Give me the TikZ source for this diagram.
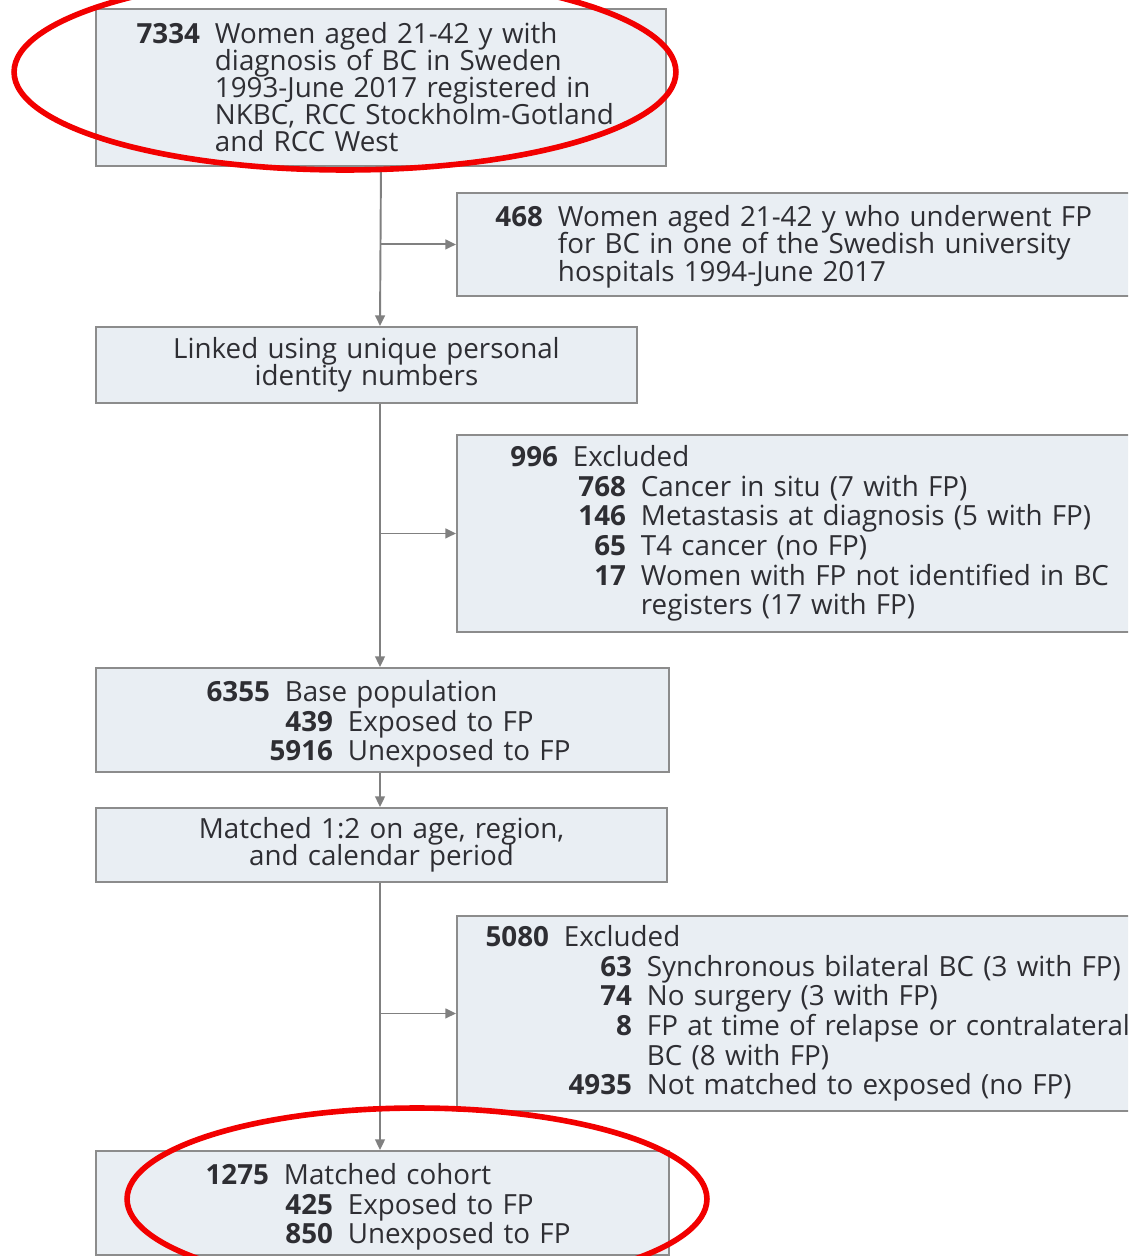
\documentclass[tikz,border=0pt]{standalone}
\usepackage{fontspec}
\setmainfont{Open Sans}
\usepackage{xcolor}
\usetikzlibrary{arrows.meta, positioning}

\definecolor{boxfill}{HTML}{E9EEF3}
\definecolor{boxline}{HTML}{8C8C8C}
\definecolor{flowgray}{HTML}{808080}
\definecolor{textgray}{HTML}{2E2E33}
\definecolor{markred}{HTML}{F20000}

\newlength{\pxu}\setlength{\pxu}{0.02cm}
\setlength{\lineskiplimit}{-100pt}
\setlength{\normallineskiplimit}{-100pt}
% bold number, right aligned in a slot of #1 px, then a fixed gap
\newcommand{\numslot}[2]{\makebox[#1\pxu][r]{\textbf{#2}}\hspace{15\pxu}}

\begin{document}
\begin{tikzpicture}[x=0.02cm, y=-0.02cm,
  panel/.style={rectangle, draw=boxline, line width=1.1pt, fill=boxfill, anchor=north west, inner sep=0pt, align=left, text=textgray, font=\fontsize{15.8}{15.4}\selectfont,
    execute at begin node={\setlength{\lineskiplimit}{-100pt}}},
  listpanel/.style={panel, font=\fontsize{15.8}{16.9}\selectfont},
  flow/.style={-{Triangle[length=6pt, width=5.5pt]}, line width=1.1pt, draw=flowgray},
  ring/.style={draw=markred, line width=3.2pt}
]
\path[use as bounding box, fill=white] (0,0) rectangle (1128,1256);
\clip (0,0) rectangle (1128,1256);

\coordinate (trunk) at (380,0);

% boxes
\node[panel, text width=570\pxu, minimum height=157\pxu] (cohortBC) at (95,8) {%
  \numslot{104}{7334}Women aged 21-42 y with\\
  \numslot{104}{}diagnosis of BC in Sweden\\
  \numslot{104}{}1993-June 2017 registered in\\
  \numslot{104}{}NKBC, RCC Stockholm-Gotland\\
  \numslot{104}{}and RCC West};
\node[panel, font=\fontsize{15.8}{15.7}\selectfont, text width=720\pxu, minimum height=103\pxu] (fpWomen) at (456,192) {%
  \rule{0pt}{14.4pt}\numslot{86}{468}Women aged 21-42 y who underwent FP\\
  \numslot{86}{}for BC in one of the Swedish university\\
  \numslot{86}{}hospitals 1994-June 2017};
\node[panel, align=center, text width=541\pxu, minimum height=76\pxu] (linked) at (95,326)
  {Linked using unique personal\\identity numbers};
\node[listpanel, text width=720\pxu, minimum height=197\pxu] (exclFirst) at (456,434) {%
  \numslot{101}{996}Excluded\\
  \numslot{101}{}\numslot{53}{768}Cancer in situ (7 with FP)\\
  \numslot{101}{}\numslot{53}{146}Metastasis at diagnosis (5 with FP)\\
  \numslot{101}{}\numslot{53}{65}T4 cancer (no FP)\\
  \numslot{101}{}\numslot{53}{17}Women with FP not identified in BC\\
  \numslot{101}{}\numslot{53}{}registers (17 with FP)};
\node[listpanel, text width=573\pxu, minimum height=104\pxu] (basePop) at (95,667) {%
  \rule{0pt}{16.6pt}\numslot{174}{6355}Base population\\
  \numslot{174}{}\numslot{48}{439}Exposed to FP\\
  \numslot{174}{}\numslot{48}{5916}Unexposed to FP};
\node[panel, align=center, text width=571\pxu, minimum height=74\pxu] (matching) at (95,807)
  {Matched 1:2 on age, region,\\and calendar period};
\node[listpanel, text width=720\pxu, minimum height=195\pxu] (exclSecond) at (456,915) {%
  \numslot{92}{5080}Excluded\\
  \numslot{92}{}\numslot{68}{63}Synchronous bilateral BC (3 with FP)\\
  \numslot{92}{}\numslot{68}{74}No surgery (3 with FP)\\
  \numslot{92}{}\numslot{68}{8}FP at time of relapse or contralateral\\
  \numslot{92}{}\numslot{68}{}BC (8 with FP)\\
  \numslot{92}{}\numslot{68}{4935}Not matched to exposed (no FP)};
\node[listpanel, text width=573\pxu, minimum height=104\pxu] (cohortMatched) at (95,1150) {%
  \rule{0pt}{16.6pt}\numslot{173}{1275}Matched cohort\\
  \numslot{173}{}\numslot{49}{425}Exposed to FP\\
  \numslot{173}{}\numslot{49}{850}Unexposed to FP};

% trunk and branches
\draw[flow] (cohortBC.south) -- (trunk |- linked.north);
\draw[flow] (trunk |- fpWomen.west) -- (fpWomen.west);
\draw[flow] (trunk |- linked.south) -- (trunk |- basePop.north);
\draw[flow] (trunk |- exclFirst.west) -- (exclFirst.west);
\draw[flow] (trunk |- basePop.south) -- (trunk |- matching.north);
\draw[flow] (trunk |- matching.south) -- (trunk |- cohortMatched.north);
\draw[flow] (trunk |- exclSecond.west) -- (exclSecond.west);

% red marks
\draw[ring] (345,72) ellipse [x radius=6.62cm, y radius=1.96cm];
\draw[ring] (417,1199) ellipse [x radius=5.8cm, y radius=1.82cm];
\end{tikzpicture}
\end{document}
